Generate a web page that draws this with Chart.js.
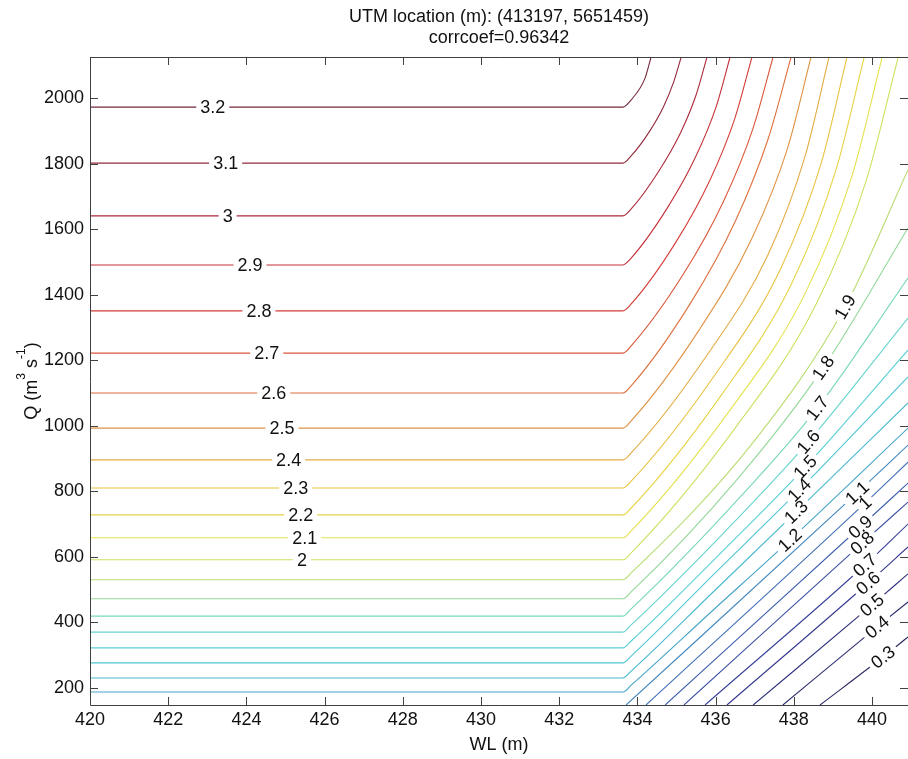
<!DOCTYPE html>
<html lang="en">
<head>
<meta charset="UTF-8" />
<title>UTM location (m): (413197, 5651459)</title>
<script src="https://cdn.jsdelivr.net/npm/chart.js"></script>
<style>
  html, body { margin: 0; padding: 0; background: #fff; }
  .wrap { position: relative; width: 908px; height: 759px; }
</style>
</head>
<body>
<div class="wrap"><canvas id="contourChart"></canvas></div>
<script>
// axis ranges and ticks
const wlRange = [420, 440.92];
const qRange = [147.5, 2126];
const xTicks = [420, 422, 424, 426, 428, 430, 432, 434, 436, 438, 440];
const yTicks = [200, 400, 600, 800, 1000, 1200, 1400, 1600, 1800, 2000];

// contour lines, [WL (m), Q (m3/s)]
const c03 = [[438.67, 147.5], [440.28, 294], [440.92, 355]];
const c04 = [[437.72, 147.5], [440.13, 386], [440.92, 462]];
const c05 = [[436.96, 147.5], [440.00, 453], [440.92, 548]];
const c06 = [[436.29, 147.5], [439.90, 520], [440.92, 630]];
const c07 = [[435.73, 147.5], [439.82, 575], [440.92, 700]];
const c08 = [[435.19, 147.5], [439.75, 642], [440.92, 767]];
const c09 = [[434.71, 147.5], [439.70, 691], [440.92, 825]];
const c10 = [[434.22, 147.5], [439.82, 764], [440.92, 889]];
const c11 = [[433.71, 147.5], [439.62, 795], [440.92, 941]];
const c12 = [[420, 187], [433.63, 187], [433.84, 208], [435.87, 430], [437.90, 651], [440.92, 993]];
const c13 = [[420, 230], [433.63, 230], [433.84, 251], [435.95, 494], [438.06, 737], [440.92, 1070]];
const c14 = [[420, 276], [433.63, 276], [433.84, 297], [435.99, 551], [438.14, 804], [440.92, 1149]];
const c15 = [[420, 322], [433.63, 322], [433.84, 343], [436.11, 609], [438.29, 874], [440.92, 1231]];
const c16 = [[420, 370], [433.63, 370], [433.84, 392], [436.19, 671], [438.37, 951], [440.92, 1329]];
const c17 = [[420, 419], [433.63, 419], [433.84, 441], [436.36, 748], [438.60, 1054], [440.92, 1451]];
const c18 = [[420, 472], [433.63, 472], [433.84, 493], [436.54, 835], [438.75, 1177], [440.92, 1604]];
const c19 = [[420, 530], [433.63, 530], [433.84, 551], [437.01, 957], [439.31, 1363], [440.92, 1781]];
const c20 = [[420, 591], [433.63, 591], [433.84, 612], [436.48, 990], [438.56, 1369], [439.85, 1748], [440.67, 2126]];
const c21 = [[420, 658], [433.63, 658], [433.84, 679], [436.32, 1040], [438.28, 1402], [439.49, 1764], [440.26, 2126]];
const c22 = [[420, 728], [433.63, 728], [433.84, 749], [436.14, 1093], [437.96, 1438], [439.08, 1782], [439.80, 2126]];
const c23 = [[420, 810], [433.63, 810], [433.84, 831], [435.98, 1155], [437.66, 1479], [438.70, 1802], [439.36, 2126]];
const c24 = [[420, 896], [433.63, 896], [433.84, 917], [435.80, 1219], [437.34, 1522], [438.29, 1824], [438.90, 2126]];
const c25 = [[420, 993], [433.63, 993], [433.84, 1015], [435.58, 1293], [436.92, 1570], [437.84, 1848], [438.44, 2126]];
const c26 = [[420, 1100], [433.63, 1100], [433.84, 1122], [435.35, 1373], [436.50, 1624], [437.34, 1875], [437.93, 2126]];
const c27 = [[420, 1222], [433.63, 1222], [433.84, 1244], [435.18, 1464], [436.20, 1685], [436.95, 1906], [437.47, 2126]];
const c28 = [[420, 1351], [433.63, 1351], [433.84, 1372], [434.98, 1560], [435.85, 1749], [436.49, 1938], [436.93, 2126]];
const c29 = [[420, 1491], [433.63, 1491], [433.84, 1512], [434.77, 1666], [435.48, 1819], [436.01, 1973], [436.37, 2126]];
const c30 = [[420, 1641], [433.63, 1641], [433.84, 1662], [434.55, 1778], [435.10, 1894], [435.50, 2010], [435.78, 2126]];
const c31 = [[420, 1802], [433.63, 1802], [433.84, 1824], [434.31, 1899], [434.67, 1975], [434.93, 2051], [435.12, 2126]];
const c32 = [[420, 1973], [433.63, 1973], [433.84, 1995], [434.19, 2060], [434.35, 2126]];

const levels = [0.3, 0.4, 0.5, 0.6, 0.7, 0.8, 0.9, 1, 1.1, 1.2, 1.3, 1.4, 1.5, 1.6,
  1.7, 1.8, 1.9, 2, 2.1, 2.2, 2.3, 2.4, 2.5, 2.6, 2.7, 2.8, 2.9, 3, 3.1, 3.2];
const lines = [c03, c04, c05, c06, c07, c08, c09, c10, c11, c12, c13, c14, c15, c16,
  c17, c18, c19, c20, c21, c22, c23, c24, c25, c26, c27, c28, c29, c30, c31, c32];

// inline contour labels (level, WL, Q)
const labelLevels = [3.2, 3.1, 3, 2.9, 2.8, 2.7, 2.6, 2.5, 2.4, 2.3, 2.2, 2.1, 2,
  1.9, 1.8, 1.7, 1.6, 1.5, 1.4, 1.3, 1.2, 1.1, 1, 0.9, 0.8, 0.7, 0.6, 0.5, 0.4, 0.3];
const labelWL = [423.14, 423.47, 423.52, 424.09, 424.32, 424.52, 424.70, 424.91, 425.08, 425.26, 425.39, 425.49, 425.42,
  439.31, 438.75, 438.60, 438.37, 438.29, 438.14, 438.06, 437.90,
  439.62, 439.82, 439.70, 439.75, 439.82, 439.90, 440.00, 440.13, 440.28];
const labelQ = [1973, 1802, 1641, 1491, 1351, 1222, 1100, 993, 896, 810, 728, 658, 591,
  1363, 1177, 1054, 951, 874, 804, 737, 651,
  795, 764, 691, 642, 575, 520, 453, 386, 294];

const FONT = '"Liberation Sans", Arial, Helvetica, sans-serif';

// jet-like colour ramp as it looks on the printed figure (position 0..1 -> rgb)
const rampStops = [
  [0.000, [40, 40, 95]], [0.125, [55, 58, 150]], [0.250, [65, 115, 185]],
  [0.330, [70, 180, 205]], [0.400, [85, 205, 215]], [0.470, [110, 215, 200]],
  [0.520, [150, 215, 150]], [0.550, [185, 220, 115]], [0.600, [215, 225, 90]],
  [0.625, [230, 226, 75]], [0.690, [232, 195, 65]], [0.750, [224, 155, 70]],
  [0.800, [222, 105, 60]], [0.875, [210, 52, 55]], [0.940, [168, 40, 60]],
  [1.000, [118, 42, 58]]
];
function levelColor(v) {
  const t = (v - levels[0]) / (levels[levels.length - 1] - levels[0]);
  let k = 1;
  while (k < rampStops.length - 1 && rampStops[k][0] < t) k++;
  const [t0, a] = rampStops[k - 1], [t1, b] = rampStops[k];
  const f = Math.max(0, Math.min(1, (t - t0) / (t1 - t0)));
  const c = a.map((ch, j) => Math.round(ch + (b[j] - ch) * f));
  return `rgb(${c[0]}, ${c[1]}, ${c[2]})`;
}

// direction of the drawn line near a label
function tangentAt(pts, px, py) {
  for (let i = 1; i < pts.length - 1; i++) {
    if (Math.hypot(pts[i].x - px, pts[i].y - py) < 1.5) {
      return Math.atan2(pts[i + 1].y - pts[i - 1].y, pts[i + 1].x - pts[i - 1].x);
    }
  }
  let best = Infinity, ang = 0;
  for (let i = 0; i < pts.length - 1; i++) {
    const a = pts[i], b = pts[i + 1];
    const dx = b.x - a.x, dy = b.y - a.y;
    const t = Math.max(0, Math.min(1, ((px - a.x) * dx + (py - a.y) * dy) / (dx * dx + dy * dy)));
    const d = Math.hypot(a.x + t * dx - px, a.y + t * dy - py);
    if (d < best) { best = d; ang = Math.atan2(dy, dx); }
  }
  return ang;
}

const contourLabels = {
  id: 'contourLabels',
  afterDatasetsDraw(chart) {
    const { ctx, scales: { x, y } } = chart;
    ctx.save();
    ctx.font = `18px ${FONT}`;
    ctx.textAlign = 'center';
    ctx.textBaseline = 'middle';
    labelLevels.forEach((lv, i) => {
      const px = x.getPixelForValue(labelWL[i]);
      const py = y.getPixelForValue(labelQ[i]);
      const pts = chart.getDatasetMeta(levels.indexOf(lv)).data;
      const ang = tangentAt(pts, px, py);
      const text = String(lv);
      const w = ctx.measureText(text).width;
      ctx.save();
      ctx.translate(px, py);
      ctx.rotate(ang);
      ctx.fillStyle = '#fff';
      ctx.fillRect(-w / 2 - 4, -5, w + 8, 10);
      ctx.fillStyle = '#111';
      ctx.fillText(text, 0, 1);
      ctx.restore();
    });
    ctx.restore();
  }
};

const frame = {
  id: 'frame',
  afterDraw(chart) {
    const { ctx, chartArea: a, scales: { x, y } } = chart;
    ctx.save();
    ctx.strokeStyle = '#404040';
    ctx.lineWidth = 1;
    ctx.beginPath();
    ctx.moveTo(a.right, a.top + 0.5);
    ctx.lineTo(a.left + 0.5, a.top + 0.5);
    ctx.lineTo(a.left + 0.5, a.bottom + 0.5);
    ctx.lineTo(a.right, a.bottom + 0.5);
    xTicks.forEach(v => {
      const px = Math.round(x.getPixelForValue(v)) + 0.5;
      ctx.moveTo(px, a.bottom); ctx.lineTo(px, a.bottom - 8);
      ctx.moveTo(px, a.top); ctx.lineTo(px, a.top + 8);
    });
    yTicks.forEach(v => {
      const py = Math.round(y.getPixelForValue(v)) + 0.5;
      ctx.moveTo(a.left, py); ctx.lineTo(a.left + 8, py);
      ctx.moveTo(a.right, py); ctx.lineTo(a.right - 8, py);
    });
    ctx.stroke();

    // titles
    const cx = (a.left + a.right) / 2;
    ctx.fillStyle = '#111';
    ctx.font = `18px ${FONT}`;
    ctx.textAlign = 'center';
    ctx.textBaseline = 'middle';
    ctx.fillText('UTM location (m): (413197, 5651459)', cx, 17);
    ctx.fillText('corrcoef=0.96342', cx, 38);
    ctx.fillText('WL (m)', cx, 745);

    // y title with superscripts
    const parts = [['Q (m', false], ['3', true], [' s', false], ['-1', true], [')', false]];
    const fontOf = (sup) => sup ? `12px ${FONT}` : `18px ${FONT}`;
    let total = 0;
    parts.forEach(([t, sup]) => { ctx.font = fontOf(sup); total += ctx.measureText(t).width; });
    ctx.translate(30, (a.top + a.bottom) / 2);
    ctx.rotate(-Math.PI / 2);
    ctx.textAlign = 'left';
    ctx.textBaseline = 'alphabetic';
    let xx = -total / 2;
    parts.forEach(([t, sup]) => {
      ctx.font = fontOf(sup);
      ctx.fillText(t, xx, sup ? -5 : 6.5);
      xx += ctx.measureText(t).width;
    });
    ctx.restore();
  }
};

const datasets = lines.map((pts, i) => ({
  label: String(levels[i]),
  data: pts.map(([w, q]) => ({ x: w, y: q })),
  borderColor: levelColor(levels[i]),
  borderWidth: 1.1,
  pointRadius: 0,
  pointHoverRadius: 0,
  fill: false,
  cubicInterpolationMode: 'monotone'
}));

new Chart(document.getElementById('contourChart'), {
  type: 'line',
  data: { datasets },
  options: {
    responsive: true,
    maintainAspectRatio: false,
    animation: false,
    events: [],
    layout: { padding: { left: 0, right: 0, top: 57, bottom: 0 } },
    plugins: { legend: { display: false }, tooltip: { enabled: false }, title: { display: false } },
    scales: {
      x: {
        type: 'linear',
        min: wlRange[0],
        max: wlRange[1],
        afterFit: (s) => { s.height = 54; },
        afterBuildTicks: (s) => { s.ticks = xTicks.map(v => ({ value: v })); },
        grid: { display: false, drawTicks: false },
        border: { display: false },
        ticks: { padding: 4, color: '#111', font: { family: FONT, size: 18 }, maxRotation: 0, callback: (v) => String(v) }
      },
      y: {
        type: 'linear',
        min: qRange[0],
        max: qRange[1],
        afterFit: (s) => { s.width = 90; },
        afterBuildTicks: (s) => { s.ticks = yTicks.map(v => ({ value: v })); },
        grid: { display: false, drawTicks: false },
        border: { display: false },
        ticks: { padding: 6, color: '#111', font: { family: FONT, size: 18 }, callback: (v) => String(v) }
      }
    }
  },
  plugins: [contourLabels, frame]
});
</script>
</body>
</html>
